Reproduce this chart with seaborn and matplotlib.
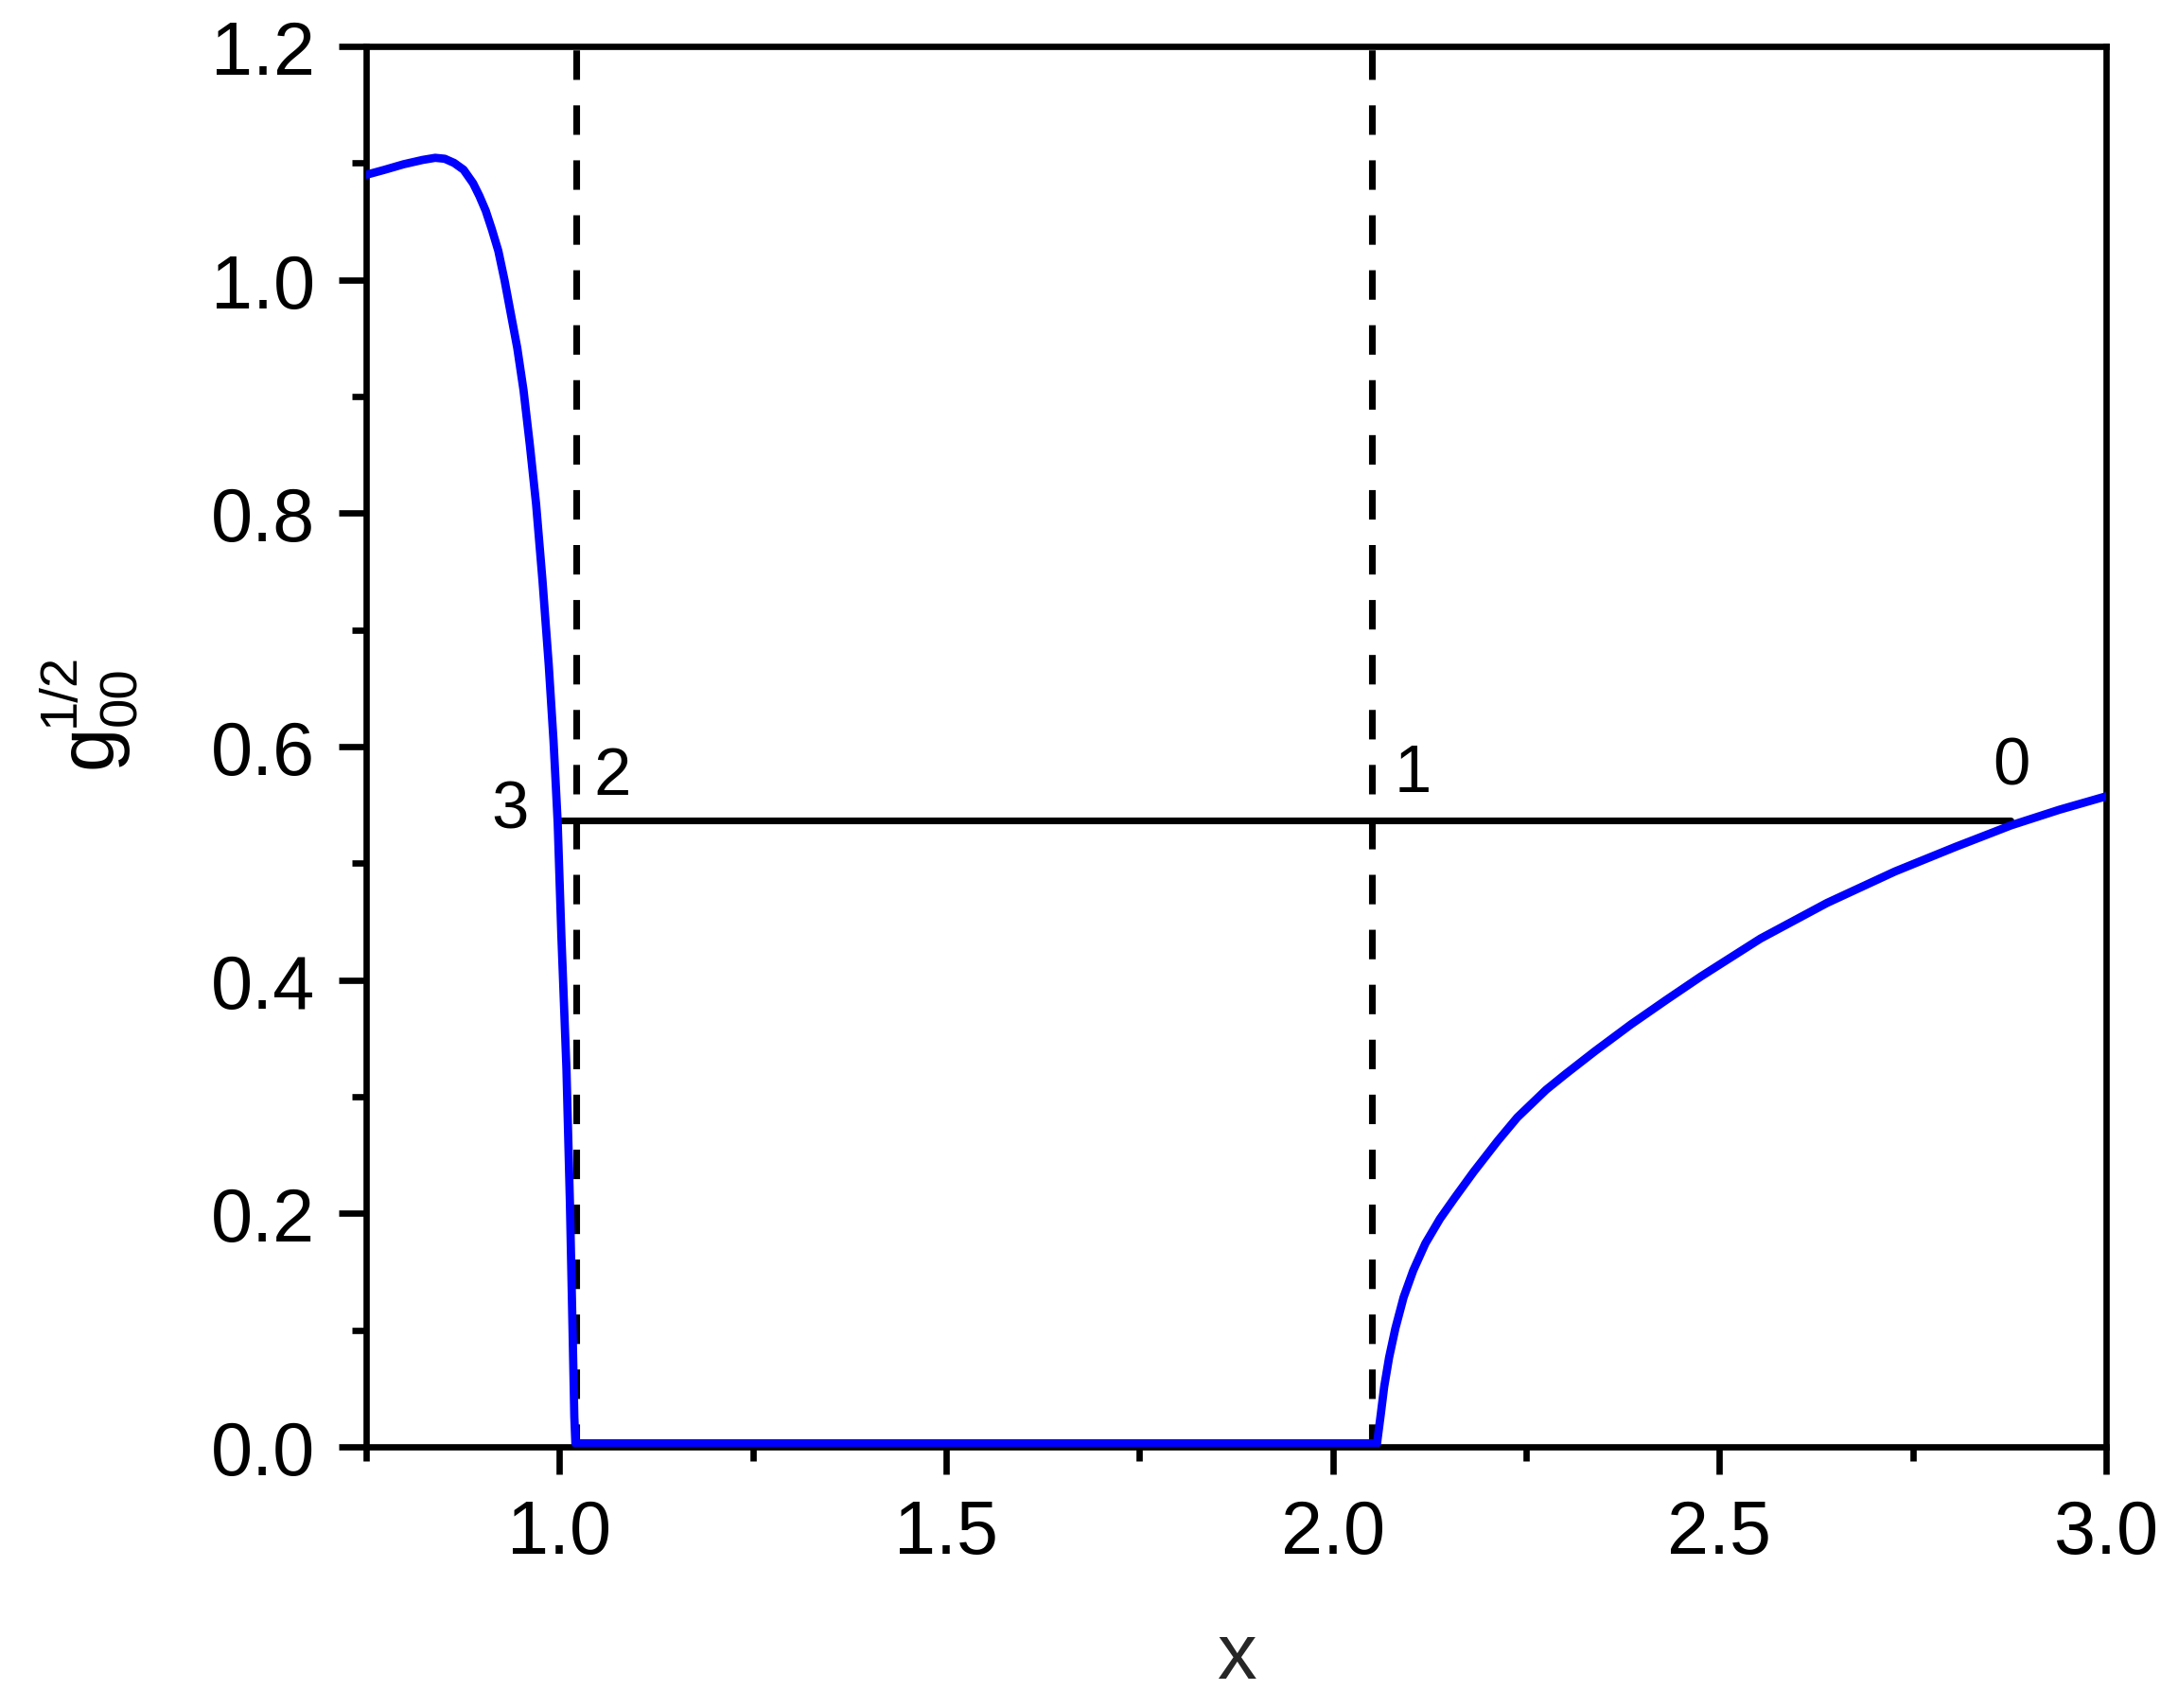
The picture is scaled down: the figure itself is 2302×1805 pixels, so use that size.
import numpy as np
import pandas as pd
import matplotlib
matplotlib.use('Agg')
import matplotlib.pyplot as plt
import seaborn as sns
from matplotlib.ticker import MultipleLocator

# curva g00^(1/2) (rama izquierda, tramo nulo y rama derecha)
x_curva = [0.7504, 0.7741, 0.7985, 0.8230, 0.8393, 0.8516, 0.8638, 0.8760, 0.8883, 0.8964,
           0.9046, 0.9127, 0.9209, 0.9290, 0.9372, 0.9454, 0.9535, 0.9617, 0.9698, 0.9780,
           0.9861, 0.9923, 0.9951, 0.9977, 1.0024, 1.0090, 1.0135, 1.0171, 1.0192, 1.0206,
           2.0572, 2.0622, 2.0665, 2.0728, 2.0809, 2.0916, 2.1041, 2.1197, 2.1385, 2.1573,
           2.1820, 2.2136, 2.2387, 2.2760, 2.3012, 2.3390, 2.3857, 2.4314, 2.4760, 2.5531,
           2.6390, 2.7270, 2.8050, 2.8770, 2.9396, 3.0000]
y_curva = [1.0900, 1.0943, 1.0990, 1.1027, 1.1045, 1.1037, 1.1001, 1.0943, 1.0827, 1.0719,
           1.0592, 1.0429, 1.0248, 0.9995, 0.9705, 0.9416, 0.9054, 0.8583, 0.8076, 0.7425,
           0.6701, 0.6049, 0.5687, 0.5345, 0.4388, 0.3241, 0.2093, 0.0945, 0.0256, 0.0030,
           0.0030, 0.0286, 0.0516, 0.0765, 0.1014, 0.1282, 0.1512, 0.1742, 0.1953, 0.2130,
           0.2355, 0.2624, 0.2823, 0.3060, 0.3195, 0.3390, 0.3620, 0.3830, 0.4030, 0.4355,
           0.4660, 0.4930, 0.5140, 0.5325, 0.5459, 0.5574]

# lineas verticales discontinuas
x_verticales = [1.022, 2.050]

# linea horizontal
x_horizontal = [0.998, 2.877]
y_horizontal = [0.537, 0.537]

# etiquetas de los puntos
etiquetas = ['3', '2', '1', '0']
x_etiquetas = [0.936, 1.0687, 2.103, 2.878]
y_etiquetas = [0.531, 0.5595, 0.562, 0.568]

df = pd.DataFrame({'x': x_curva, 'g': y_curva})

sns.set_style('ticks')
plt.rcParams['font.family'] = ['Liberation Sans', 'DejaVu Sans']

W, H = 2302, 1806
fig = plt.figure(figsize=(W / 300, H / 300), dpi=300)
ax = fig.add_axes([387 / W, 1 - 1530 / H, (2226 - 387) / W, (1530 - 50) / H])

# curva azul
sns.lineplot(data=df, x='x', y='g', sort=False, estimator=None, color='#0000ff',
             linewidth=2.1, ax=ax, zorder=3)

# lineas discontinuas
for xv in x_verticales:
    ax.plot([xv, xv], [-0.006, 1.2], color='black', linewidth=1.7,
            linestyle=(0, (4.4, 3.8)), zorder=2)

ax.plot(x_horizontal, y_horizontal, color='black', linewidth=1.7, zorder=2)

for t, xe, ye in zip(etiquetas, x_etiquetas, y_etiquetas):
    ax.text(xe, ye, t, fontsize=17, ha='center', va='baseline', color='black')

ax.set_xlim(0.75, 3.0)
ax.set_ylim(0, 1.2)
ax.xaxis.set_major_locator(MultipleLocator(0.5))
ax.xaxis.set_minor_locator(MultipleLocator(0.25))
ax.yaxis.set_major_locator(MultipleLocator(0.2))
ax.yaxis.set_minor_locator(MultipleLocator(0.1))
ax.xaxis.set_major_formatter(plt.FormatStrFormatter('%.1f'))
ax.yaxis.set_major_formatter(plt.FormatStrFormatter('%.1f'))

ax.tick_params(which='major', direction='out', length=7, width=1.6, labelsize=19, pad=6,
               color='black', labelcolor='black')
ax.tick_params(which='minor', direction='out', length=3.5, width=1.6, color='black')
ax.tick_params(top=False, right=False, which='both')

for s in ax.spines.values():
    s.set_linewidth(1.6)
    s.set_color('black')
    s.set_visible(True)

ax.set_xlabel('x', fontsize=20, labelpad=13)
ax.set_ylabel('')

# etiqueta del eje y: g con subindice 00 y superindice 1/2 apilados
kw = dict(rotation=90, rotation_mode='anchor', ha='left', va='baseline', color='black')
fig.text(117 / W, 1 - 812 / H, 'g', fontsize=20, **kw)
fig.text(143 / W, 1 - 767 / H, '00', fontsize=13.5, **kw)
fig.text(78 / W, 1 - 768 / H, '1/2', fontsize=13.5, **kw)

fig.savefig('out.png', dpi=300, facecolor='white')
